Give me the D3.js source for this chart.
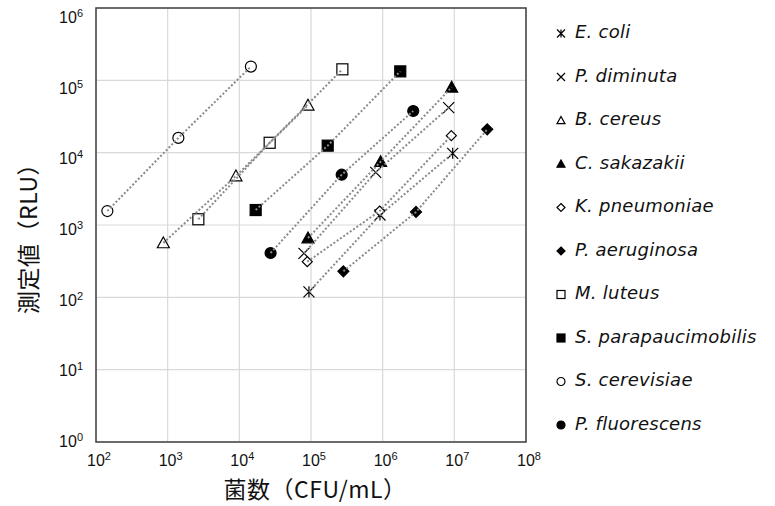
<!DOCTYPE html>
<html>
<head>
<meta charset="utf-8">
<script src="https://cdn.jsdelivr.net/npm/d3@7"></script>
<style>
  body { margin: 0; background: white; }
  svg text { font-family: "Liberation Sans", Arial, sans-serif; }
</style>
</head>
<body>
<div id="main_content"></div>
<script>
var width = 775, height = 506;

// species in legend order
var species = ['E. coli', 'P. diminuta', 'B. cereus', 'C. sakazakii', 'K. pneumoniae',
  'P. aeruginosa', 'M. luteus', 'S. parapaucimobilis', 'S. cerevisiae', 'P. fluorescens'];
var symbols = ['asterisk', 'cross', 'triangleOpen', 'triangle', 'diamondOpen',
  'diamond', 'squareOpen', 'square', 'circleOpen', 'circle'];

// CFU/mL for each species (3 dilutions)
var cfu = [
  [93700, 918000, 9490000],
  [79800, 800000, 8340000],
  [870, 8970, 90800],
  [90800, 937000, 9180000],
  [88700, 908000, 9080000],
  [283000, 2920000, 28800000],
  [2680, 26500, 274000],
  [16900, 171000, 1760000],
  [144, 1410, 14500],
  [27300, 268000, 2670000]
];
// measured RLU
var rlu = [
  [119, 1375, 9800],
  [406, 5350, 41900],
  [565, 4760, 45200],
  [661, 7500, 80100],
  [311, 1560, 17200],
  [229, 1514, 21000],
  [1200, 13700, 142000],
  [1610, 12500, 133000],
  [1560, 16000, 155000],
  [410, 4960, 37700]
];

var xTicks = [1e2, 1e3, 1e4, 1e5, 1e6, 1e7, 1e8];
var yTicks = [1e0, 1e1, 1e2, 1e3, 1e4, 1e5, 1e6];

var margin = {left: 96, top: 8, right: 249, bottom: 64};
var plotW = width - margin.left - margin.right;
var plotH = height - margin.top - margin.bottom;

var svg = d3.select('#main_content').append('svg')
  .attr('width', width)
  .attr('height', height)
  .style('background', 'white');

var x = d3.scaleLog().domain([1e2, 1e8]).range([0, plotW]);
var y = d3.scaleLog().domain([1e0, 1e6]).range([plotH, 0]);
// excel squeezes the value-axis labels a little
var yLab = d3.scaleLog().domain([1e0, 1e6]).range([plotH - 1, 9]);

var g = svg.append('g').attr('transform', 'translate(' + margin.left + ',' + margin.top + ')');

// grid
g.selectAll('.vgrid').data(xTicks).enter().append('line')
  .attr('x1', function(d) { return x(d); }).attr('x2', function(d) { return x(d); })
  .attr('y1', 0).attr('y2', plotH)
  .attr('stroke', '#d9d9d9').attr('stroke-width', 1.2);
g.selectAll('.hgrid').data(yTicks).enter().append('line')
  .attr('y1', function(d) { return y(d); }).attr('y2', function(d) { return y(d); })
  .attr('x1', 0).attr('x2', plotW)
  .attr('stroke', '#d9d9d9').attr('stroke-width', 1.2);

g.append('rect')
  .attr('width', plotW).attr('height', plotH)
  .attr('fill', 'none').attr('stroke', '#404040').attr('stroke-width', 1.5);

// tick labels with superscripts
function powerLabel(sel) {
  sel.append('tspan').text('10');
  sel.append('tspan').attr('dy', -6).attr('font-size', 11)
    .text(function(d) { return Math.round(Math.log10(d)); });
}
var xl = svg.append('g').attr('transform', 'translate(' + margin.left + ',' + margin.top + ')');
xl.selectAll('text').data(xTicks).enter().append('text')
  .attr('x', function(d) { return x(d) + 3; })
  .attr('y', plotH + 24)
  .attr('text-anchor', 'middle')
  .attr('font-size', 16)
  .attr('fill', '#111')
  .call(powerLabel);
xl.selectAll('text.yl').data(yTicks).enter().append('text')
  .attr('class', 'yl')
  .attr('x', -13)
  .attr('y', function(d) { return yLab(d) + 6; })
  .attr('text-anchor', 'end')
  .attr('font-size', 16)
  .attr('fill', '#111')
  .call(powerLabel);

// axis titles
svg.append('text')
  .attr('x', 315).attr('y', 498)
  .attr('text-anchor', 'middle')
  .style('font-family', '"Noto Sans CJK JP", sans-serif')
  .attr('font-size', 23).attr('fill', '#111')
  .attr('letter-spacing', 0.5)
  .text('菌数（CFU/mL）');
svg.append('text')
  .attr('transform', 'translate(37,233) rotate(-90)')
  .attr('text-anchor', 'middle')
  .style('font-family', '"Noto Sans CJK JP", sans-serif')
  .attr('font-size', 23).attr('fill', '#111')
  .attr('letter-spacing', 0.5)
  .text('測定値（RLU）');

// marker shapes
function marker(sel, type, s) {
  var h = s / 2;
  if (type === 'circle' || type === 'circleOpen') {
    sel.append('circle').attr('r', h)
      .attr('fill', type === 'circle' ? 'black' : 'white')
      .attr('stroke', 'black').attr('stroke-width', 1.2);
  } else if (type === 'square' || type === 'squareOpen') {
    sel.append('rect').attr('x', -h).attr('y', -h).attr('width', s).attr('height', s)
      .attr('fill', type === 'square' ? 'black' : 'white')
      .attr('stroke', 'black').attr('stroke-width', 1.2);
  } else if (type === 'triangle' || type === 'triangleOpen') {
    sel.append('path').attr('d', 'M0,' + (-h) + 'L' + h + ',' + (h * 0.8) + 'L' + (-h) + ',' + (h * 0.8) + 'Z')
      .attr('fill', type === 'triangle' ? 'black' : 'white')
      .attr('stroke', 'black').attr('stroke-width', 1.2);
  } else if (type === 'diamond' || type === 'diamondOpen') {
    sel.append('path').attr('d', 'M0,' + (-h) + 'L' + h + ',0L0,' + h + 'L' + (-h) + ',0Z')
      .attr('fill', type === 'diamond' ? 'black' : 'white')
      .attr('stroke', 'black').attr('stroke-width', 1.2);
  } else if (type === 'cross' || type === 'asterisk') {
    var p = 'M' + (-h) + ',' + (-h) + 'L' + h + ',' + h + 'M' + h + ',' + (-h) + 'L' + (-h) + ',' + h;
    if (type === 'asterisk') p += 'M0,' + (-h) + 'L0,' + h;
    sel.append('path').attr('d', p).attr('fill', 'none')
      .attr('stroke', 'black').attr('stroke-width', 1.2);
  }
}

var series = species.map(function(name, i) {
  return {
    name: name,
    symbol: symbols[i],
    points: cfu[i].map(function(c, j) { return {x: c, y: rlu[i][j]}; })
  };
});

var sizes = {circle: 11, circleOpen: 11, square: 11, squareOpen: 11, triangle: 12, triangleOpen: 12,
  diamond: 11, diamondOpen: 10, cross: 11, asterisk: 11};

series.forEach(function(s) {
  s.points.forEach(function(p) {
    var m = g.append('g').attr('transform', 'translate(' + x(p.x) + ',' + y(p.y) + ')');
    marker(m, s.symbol, sizes[s.symbol]);
  });
});

var line = d3.line().x(function(d) { return x(d.x); }).y(function(d) { return y(d.y); });
g.selectAll('.fit').data(series).enter().append('path')
  .attr('d', function(d) { return line(d.points); })
  .attr('fill', 'none')
  .attr('stroke', '#8a8a8a')
  .attr('stroke-width', 2)
  .attr('stroke-dasharray', '2 2');

// legend
var legend = svg.append('g').attr('transform', 'translate(561,38)');
var rows = legend.selectAll('g').data(series).enter().append('g')
  .attr('transform', function(d, i) { return 'translate(0,' + (i * 43.5) + ')'; });
rows.each(function(d) {
  marker(d3.select(this).append('g').attr('transform', 'translate(0,-4.5)'), d.symbol, 8);
});
rows.append('text')
  .attr('x', 14).attr('y', 0)
  .style('font-family', '"DejaVu Sans", Verdana, sans-serif')
  .style('font-style', 'italic')
  .attr('font-size', 18).attr('fill', '#111')
  .attr('letter-spacing', 0.25)
  .text(function(d) { return d.name; });
</script>
</body>
</html>
